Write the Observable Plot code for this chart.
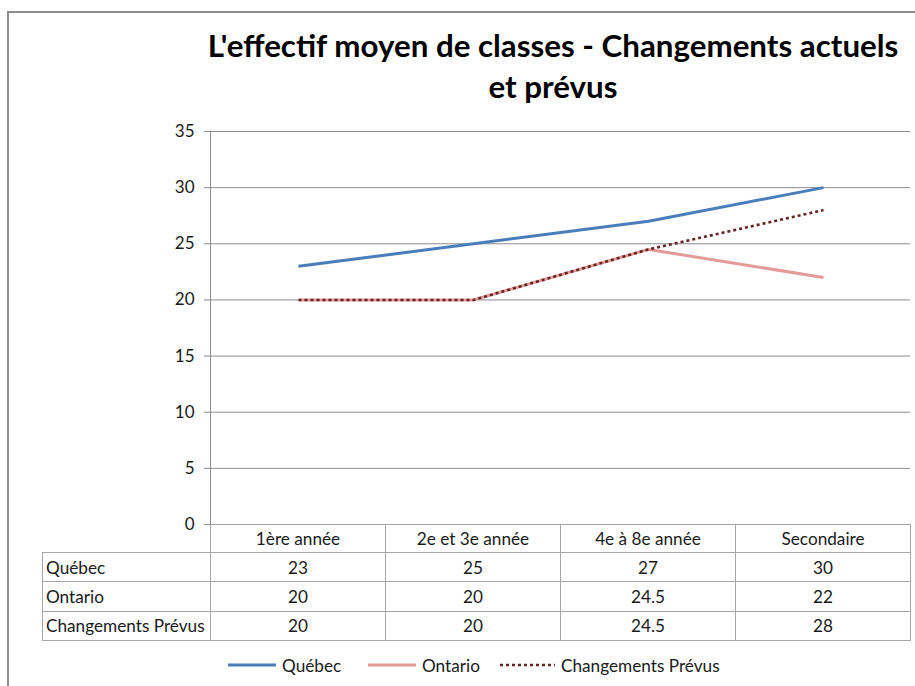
<!DOCTYPE html>
<html>
<head>
<meta charset="utf-8">
<script src="https://cdn.jsdelivr.net/npm/d3@7"></script>
<script src="https://cdn.jsdelivr.net/npm/@observablehq/plot@0.6"></script>
<style>
  html, body { margin: 0; padding: 0; background: #fff; }
  #root { position: relative; width: 915px; height: 686px; overflow: hidden; font-family: Lato, "Open Sans", sans-serif; color: #1a1a1a; }
  #frame { position: absolute; left: 7px; top: 11px; width: 1000px; height: 1000px; border: 2px solid #8c8c8c; box-sizing: border-box; }
  #title { position: absolute; left: 200px; width: 706px; top: 25px; text-align: center; font-weight: bold; font-size: 31.3px; line-height: 41px; color: #000; white-space: nowrap; }
  #chart { position: absolute; left: 0; top: 0; }
  #tbl { position: absolute; left: 42px; top: 524px; border-collapse: collapse; font-size: 17.2px; }
  #tbl td { border: 1px solid #a6a6a6; padding: 0 3px; box-sizing: border-box; text-align: center; }
  #tbl tr.h td { height: 28px; }
  #tbl tr.r td { height: 29.4px; }
  #tbl td.lbl { text-align: left; width: 168px; white-space: nowrap; }
  #tbl td.val { width: 175px; }
  #tbl td.empty { border: none; }
  .leg { position: absolute; top: 655px; font-size: 17.2px; display: flex; align-items: center; height: 20px; }
  .leg svg { margin-right: 6px; }
</style>
</head>
<body>
<div id="root">
  <div id="frame"></div>
  <div id="title">L'effectif moyen de classes - Changements actuels<br>et prévus</div>
  <div id="chart"></div>
  <table id="tbl"></table>
  <div id="legend"></div>
</div>
<script>
const categories = ["1ère année", "2e et 3e année", "4e à 8e année", "Secondaire"];
const seriesNames = ["Québec", "Ontario", "Changements Prévus"];
const quebec = [23, 25, 27, 30];
const ontario = [20, 20, 24.5, 22];
const prevus = [20, 20, 24.5, 28];
const valueLabels = [["23", "25", "27", "30"], ["20", "20", "24.5", "22"], ["20", "20", "24.5", "28"]];
const yTicks = [0, 5, 10, 15, 20, 25, 30, 35];

const seriesValues = [quebec, ontario, prevus];
const colors = ["#4A7EBB", "#E39A99", "#632523"];
const dashes = [null, null, "3,3"];
const widths = [3, 3, 2.6];

const rows = (vals, name) => categories.map((c, i) => ({cat: c, value: vals[i], series: name}));

const chart = Plot.plot({
  width: 915,
  height: 560,
  marginLeft: 210,
  marginRight: 5,
  marginTop: 131,
  marginBottom: 36,
  style: {fontFamily: "Lato, 'Open Sans', sans-serif", fontSize: "17px", color: "#1a1a1a", background: "transparent", overflow: "visible"},
  x: {type: "point", domain: categories, padding: 0.5, axis: null},
  y: {domain: [0, 35]},
  marks: [
    Plot.gridY(yTicks, {stroke: "#8c8c8c", strokeOpacity: 1, strokeWidth: 1}),
    Plot.axisY(yTicks, {tickSize: 6, tickPadding: 10, label: null, stroke: "#8c8c8c", fontSize: 17, fill: "#1a1a1a"}),
    Plot.frame({anchor: "left", stroke: "#8c8c8c"}),
    ...seriesValues.map((vals, k) => Plot.line(rows(vals, seriesNames[k]), {
      x: "cat", y: "value", stroke: colors[k], strokeWidth: widths[k],
      strokeDasharray: dashes[k], strokeLinecap: "butt", strokeLinejoin: "round"
    }))
  ]
});
document.getElementById("chart").appendChild(chart);

// data table
const tbl = d3.select("#tbl");
const head = tbl.append("tr").attr("class", "h");
head.append("td").attr("class", "empty lbl");
categories.forEach(c => head.append("td").attr("class", "val").text(c));
seriesNames.forEach((n, k) => {
  const tr = tbl.append("tr").attr("class", "r");
  tr.append("td").attr("class", "lbl").text(n);
  valueLabels[k].forEach(v => tr.append("td").attr("class", "val").text(v));
});

// legend
const legLeft = [228, 368, 500];
const legSwatch = [48, 48, 55];
const legend = d3.select("#legend");
seriesNames.forEach((n, k) => {
  const item = legend.append("div").attr("class", "leg").style("left", legLeft[k] + "px");
  const svg = item.append("svg").attr("width", legSwatch[k]).attr("height", 6);
  svg.append("line").attr("x1", 0).attr("x2", legSwatch[k]).attr("y1", 3).attr("y2", 3)
    .attr("stroke", colors[k]).attr("stroke-width", widths[k])
    .attr("stroke-dasharray", dashes[k]);
  item.append("span").text(n);
});
</script>
</body>
</html>
